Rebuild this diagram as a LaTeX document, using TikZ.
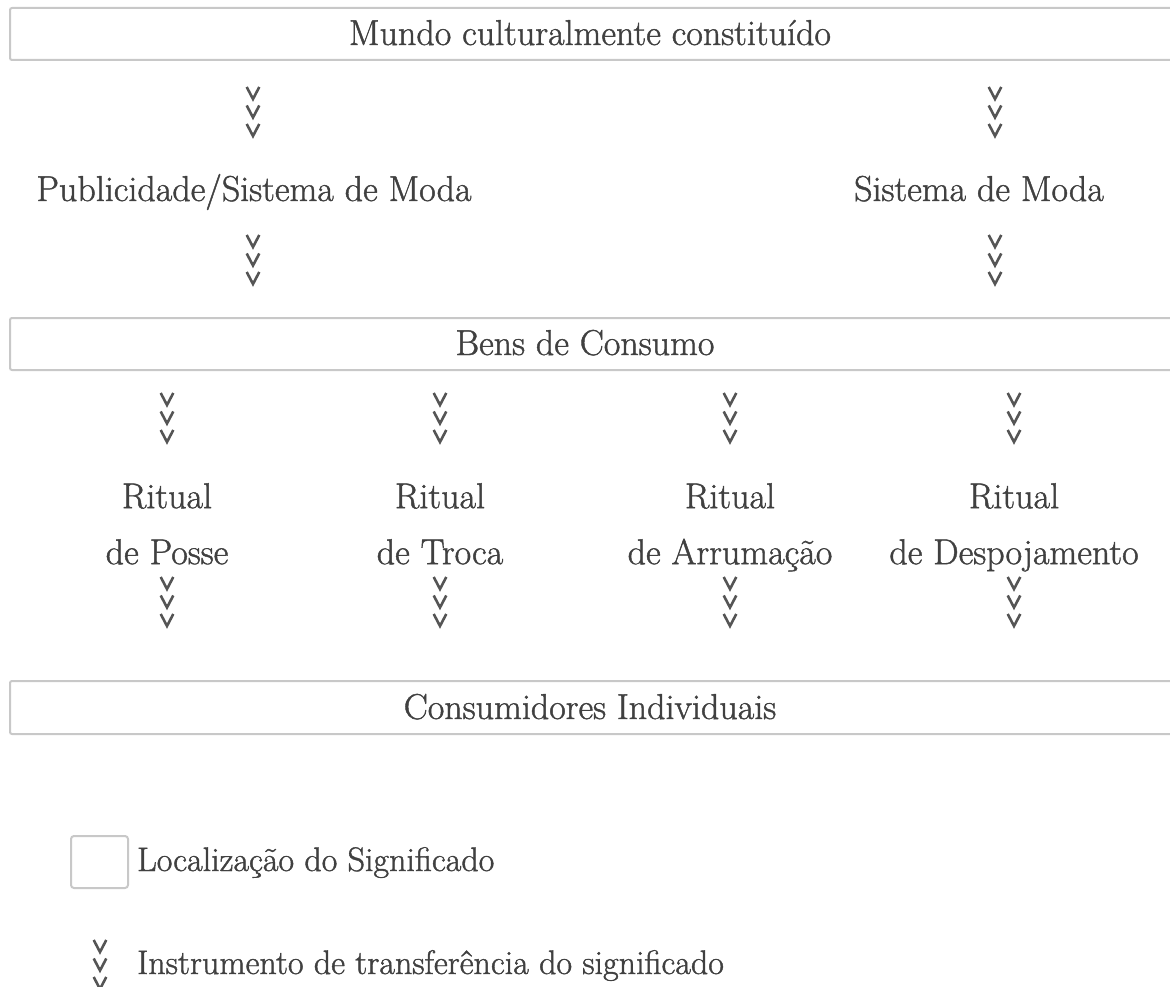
\documentclass[tikz,border=0pt]{standalone}
\usepackage{fontspec}
\setmainfont{Latin Modern Roman}[BoldFont={Latin Modern Roman}, BoldFeatures={FakeBold=1.2}]
\definecolor{txt}{HTML}{404040}
\definecolor{boxc}{HTML}{C8C8C8}
\definecolor{chevc}{HTML}{555555}
\tikzset{
  lbl/.style={font=\fontsize{36}{56}\selectfont\bfseries, text=txt, inner sep=0pt, align=center},
  leg/.style={font=\fontsize{34}{40}\selectfont\bfseries, text=txt, inner sep=0pt},
  band/.style={draw=boxc, line width=2pt, rounded corners=2pt, inner sep=0pt, anchor=north west},
  chevline/.style={draw=chevc, line width=2.6pt, line join=miter, line cap=butt},
  chev/.pic={
    \foreach \k in {0,1,2}{
      \draw[chevline] (-6.3,{\k*18.5}) -- (0,{\k*18.5+12}) -- (6.3,{\k*18.5});
    }
  }
}
\begin{document}
\begin{tikzpicture}[x=1pt,y=-1pt]
\useasboundingbox (0,0) rectangle (1170,987);
\clip (0,0) rectangle (1170,987);
% bands (locations of meaning)
\node[band, minimum width=1200pt, minimum height=52pt] (mundobox) at (9,7) {};
\node[band, minimum width=1200pt, minimum height=52pt] (bensbox) at (9,317) {};
\node[band, minimum width=1200pt, minimum height=53pt] (consbox) at (9,680) {};
% texts
\node[lbl, anchor=base] (mundo) at (590,45) {Mundo culturalmente constituído};
\node[lbl, anchor=base] (pub) at (254,201) {Publicidade/Sistema de Moda};
\node[lbl, anchor=base] (sis) at (979,201) {Sistema de Moda};
\node[lbl, anchor=base] (bens) at (585,355) {Bens de Consumo};
\node[lbl, anchor=base] (cons) at (590,719) {Consumidores Individuais};
\node[lbl, anchor=north] (r1) at (167,483) {Ritual\\de Posse};
\node[lbl, anchor=north] (r2) at (440,483) {Ritual\\de Troca};
\node[lbl, anchor=north] (r3) at (730,483) {Ritual\\de Arrumação};
\node[lbl, anchor=north] (r4) at (1014,483) {Ritual\\de Despojamento};
% transfer instruments
\coordinate (a1) at (253,87);
\coordinate (a2) at (995,87);
\coordinate (b1) at (253,235);
\coordinate (b2) at (995,235);
\foreach \n/\x in {c1/167,c2/440,c3/730,c4/1014}{\coordinate (\n) at (\x,393);}
\foreach \n/\x in {d1/167,d2/440,d3/730,d4/1014}{\coordinate (\n) at (\x,577);}
\foreach \c in {a1,a2,b1,b2,c1,c2,c3,c4,d1,d2,d3,d4}{\pic at (\c) {chev};}
% legend
\node[band, draw=boxc, minimum width=57pt, minimum height=52pt, rounded corners=3pt] (legbox) at (70,835) {};
\node[leg, anchor=base west] (loc) at (137,871) {Localização do Significado};
\coordinate (legchev) at (100,940);
\pic at (legchev) {chev};
\node[leg, anchor=base west] (inst) at (137,974) {Instrumento de transferência do significado};
\end{tikzpicture}
\end{document}
